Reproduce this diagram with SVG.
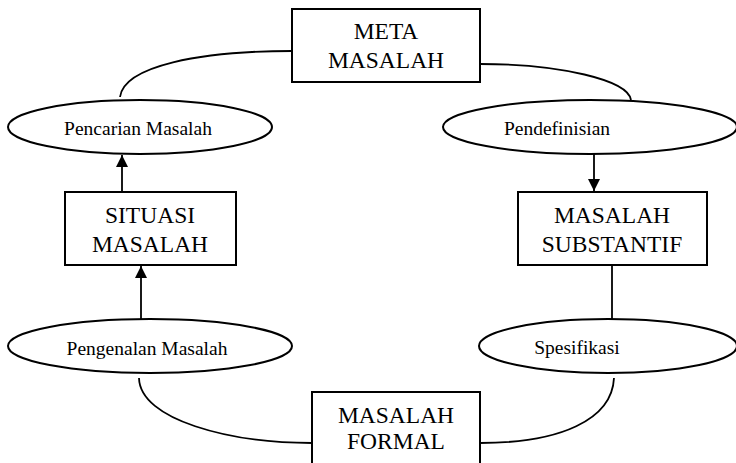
<svg xmlns="http://www.w3.org/2000/svg" width="736" height="463" viewBox="0 0 736 463">
<style>
.box{fill:#fff;stroke:#000;stroke-width:2}
.ell{fill:#fff;stroke:#000;stroke-width:2}
.big{font-size:23.5px;fill:#000;text-anchor:middle}
.sm{font-size:19.5px;fill:#000;text-anchor:middle}
.con{fill:none;stroke:#000;stroke-width:1.8}
</style>
<defs>
<marker id="ah" viewBox="0 0 12 12" refX="12" refY="6" markerWidth="12" markerHeight="12" markerUnits="userSpaceOnUse" orient="auto">
<path d="M0,0 L12,6 L0,12 z" fill="#000"/>
</marker>
</defs>
<g id="connectors">
<path class="con" d="M120,97 C124,66 200,51 292,51"/>
<path class="con" d="M480,64 C560,64 628,80 631,100"/>
<path class="con" d="M122,192 L122,155" marker-end="url(#ah)"/>
<path class="con" d="M594,154 L594,191" marker-end="url(#ah)"/>
<path class="con" d="M141,319 L141,266" marker-end="url(#ah)"/>
<path class="con" d="M612,265 L612,319"/>
<path class="con" d="M139,378 C140,420 230,443 312,443"/>
<path class="con" d="M614,378 C612,420 560,443 480,443"/>
</g>
<g font-family="Liberation Serif, DejaVu Serif, serif">
<g id="meta">
<rect class="box" x="292" y="9" width="188" height="73"/>
<text class="big" x="386" y="39">META</text>
<text class="big" x="386" y="68">MASALAH</text>
</g>
<g id="pencarian">
<ellipse class="ell" cx="140" cy="127" rx="132" ry="27"/>
<text class="sm" x="138" y="135">Pencarian Masalah</text>
</g>
<g id="pendefinisian">
<ellipse class="ell" cx="590" cy="127" rx="147" ry="27"/>
<text class="sm" x="557" y="135">Pendefinisian</text>
</g>
<g id="situasi">
<rect class="box" x="65" y="192" width="171" height="73"/>
<text class="big" x="150" y="223">SITUASI</text>
<text class="big" x="150" y="252">MASALAH</text>
</g>
<g id="substantif">
<rect class="box" x="518" y="192" width="189" height="73"/>
<text class="big" x="612" y="223">MASALAH</text>
<text class="big" x="612" y="252">SUBSTANTIF</text>
</g>
<g id="pengenalan">
<ellipse class="ell" cx="150" cy="346" rx="142" ry="27"/>
<text class="sm" x="147" y="355">Pengenalan Masalah</text>
</g>
<g id="spesifikasi">
<ellipse class="ell" cx="608" cy="346" rx="129" ry="27"/>
<text class="sm" x="577" y="354">Spesifikasi</text>
</g>
<g id="formal">
<rect class="box" x="312" y="392" width="168" height="80"/>
<text class="big" x="396" y="423">MASALAH</text>
<text class="big" x="396" y="449">FORMAL</text>
</g>
</g>
</svg>
